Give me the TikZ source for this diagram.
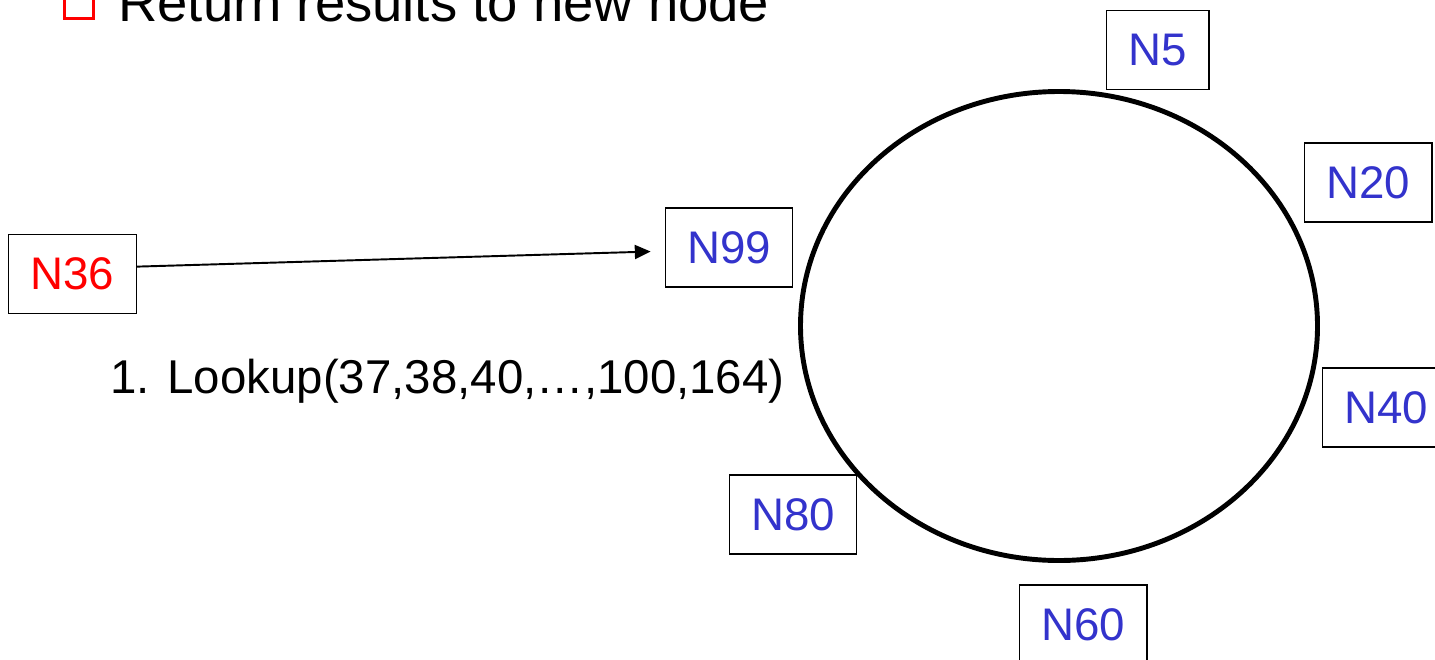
\documentclass[tikz,border=0pt]{standalone}
\usepackage{fontspec}
\setmainfont{Liberation Sans}
\usetikzlibrary{arrows.meta}
\definecolor{ringblue}{RGB}{51,51,204}
\begin{document}
\begin{tikzpicture}[x=0.02cm, y=-0.02cm,
    peer/.style={draw, fill=white, line width=0.8pt, text=ringblue, minimum width=72.6pt,
                 minimum height=44.8pt, inner sep=0pt, font=\fontsize{26}{30}\selectfont},
    ring/.style={line width=2.8pt},
    link/.style={line width=1.1pt, -{Triangle[length=9pt, width=8pt]}}]
    \useasboundingbox (0,0) rectangle (1435,659);

    % heading, cut at the top
    \node[draw=red, line width=1.7pt, minimum size=17pt, inner sep=0pt] (bullet) at (79,4) {};
    \node[anchor=base west, inner sep=0pt, font=\fontsize{31}{36}\selectfont] (head) at (118,21) {Return results to new node};

    \draw[ring] (1059,326) ellipse [x radius=258.5, y radius=234.5];

    \node[peer, minimum width=58.4pt] (n5) at (1157.5,50) {N5};
    \node[peer] (n20) at (1368,182.5) {N20};
    \node[peer] (n40) at (1386,407.5) {N40};
    \node[peer] (n60) at (1083,624.5) {N60};
    \node[peer] (n80) at (793,514.5) {N80};
    \node[peer] (n99) at (729,247.5) {N99};
    \node[peer, text=red] (n36) at (72.5,274) {N36};

    \draw[link] ([yshift=4.2pt]n36.east) -- ([xshift=-7.9pt, yshift=-2.3pt]n99.west);
    \node[anchor=base west, inner sep=0pt, font=\fontsize{27}{32}\selectfont] (lookup) at (110,393) {1. Lookup(37,38,40,\dots,100,164)};
\end{tikzpicture}
\end{document}
